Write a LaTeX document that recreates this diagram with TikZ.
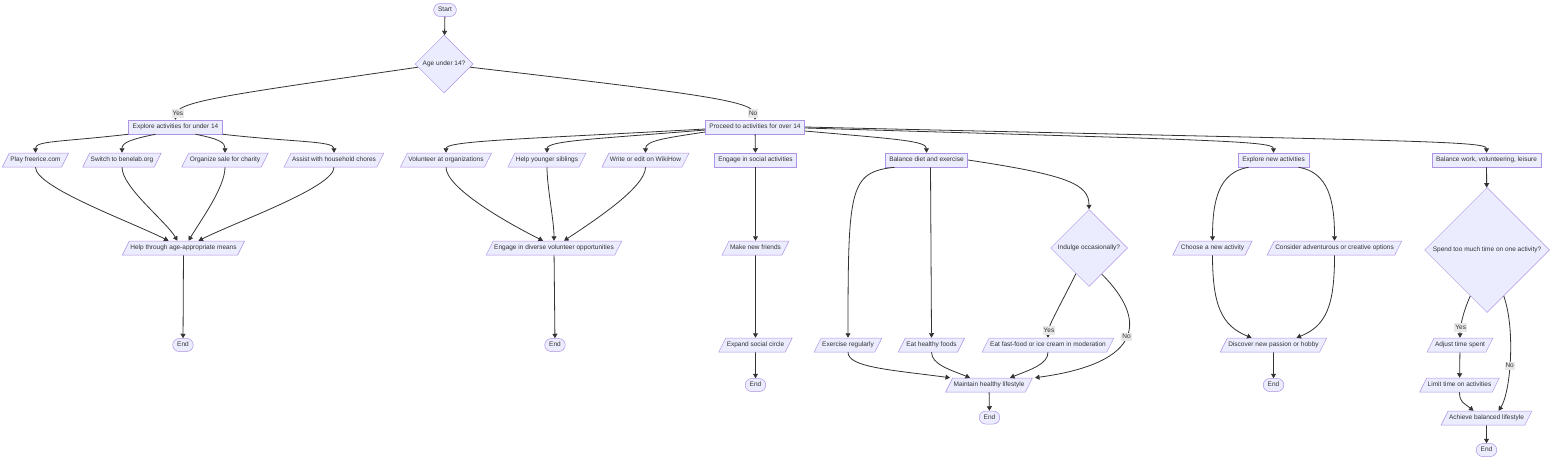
\documentclass[tikz,border=0pt]{standalone}
\usepackage{fontspec}
\setmainfont{Liberation Sans}
\usetikzlibrary{shapes.geometric,arrows.meta}
\definecolor{nodefill}{HTML}{ECECFF}
\definecolor{nodeline}{HTML}{9370DB}
\definecolor{edgeline}{HTML}{333333}
\definecolor{labelfill}{HTML}{E8E8E8}
\begin{document}
\begin{tikzpicture}[x=1pt, y=1pt, font=\fontsize{6.5}{7.8}\selectfont, text=edgeline,
	base/.style={draw=nodeline!75, fill=nodefill, line width=0.5pt, text height=5pt, text depth=1.5pt},
	box/.style={base, rectangle, inner xsep=4pt, inner ysep=3.75pt},
	io/.style={base, trapezium, trapezium left angle=63.4, trapezium right angle=116.6, inner xsep=1pt, inner ysep=3.75pt},
	term/.style={base, rectangle, rounded corners=6.5pt, inner xsep=4.5pt, inner ysep=3.25pt},
	ask/.style={base, diamond, inner sep=0pt, minimum size=#1},
	elabel/.style={fill=labelfill, inner sep=1pt, text height=5pt, text depth=1.5pt},
	flow/.style={draw=edgeline, line width=0.8pt, -{Triangle[length=4.5pt,width=5pt]}}]
	\useasboundingbox (0,0) rectangle (1568,-466);

	\node[term] (start) at (445,-10) {Start};
	\node[ask=58pt] (age) at (444,-64) {Age under 14?};
	\node[box] (u14) at (175.5,-127) {Explore activities for under 14};
	\node[box] (o14) at (755,-127) {Proceed to activities for over 14};

	\node[io] (play) at (35.5,-160) {Play freerice.com};
	\node[io] (switch) at (122,-160) {Switch to benelab.org};
	\node[io] (sale) at (225,-160) {Organize sale for charity};
	\node[io] (chores) at (334,-160) {Assist with household chores};
	\node[io] (help) at (183.5,-248) {Help through age-appropriate means};
	\node[term] (end1) at (183,-345) {End};

	\node[io] (vol) at (446,-160) {Volunteer at organizations};
	\node[io] (sib) at (547,-160) {Help younger siblings};
	\node[io] (wiki) at (645.5,-160) {Write or edit on WikiHow};
	\node[io] (div) at (554,-248) {Engage in diverse volunteer opportunities};
	\node[term] (end2) at (555,-345) {End};

	\node[box] (social) at (755.5,-160) {Engage in social activities};
	\node[io] (friends) at (755.5,-248) {Make new friends};
	\node[io] (circle) at (755.5,-345) {Expand social circle};
	\node[term] (end3) at (755.5,-385) {End};

	\node[box] (diet) at (926.5,-160) {Balance diet and exercise};
	\node[ask=77pt] (indulge) at (1089,-248) {Indulge occasionally?};
	\node[io] (exreg) at (848,-345) {Exercise regularly};
	\node[io] (healthy) at (931.5,-345) {Eat healthy foods};
	\node[io] (fast) at (1048,-345) {Eat fast-food or ice cream in moderation};
	\node[io] (maintain) at (989,-385) {Maintain healthy lifestyle};
	\node[term] (end4) at (989.5,-417.5) {End};

	\node[box] (explore) at (1273.5,-160) {Explore new activities};
	\node[io] (choose) at (1212.5,-248) {Choose a new activity};
	\node[io] (consider) at (1334.5,-248) {Consider adventurous or creative options};
	\node[io] (discover) at (1273.5,-345) {Discover new passion or hobby};
	\node[term] (end5) at (1273.5,-385) {End};

	\node[box] (bwork) at (1486.5,-160) {Balance work, volunteering, leisure};
	\node[ask=125pt] (spend) at (1487,-250) {Spend too much time on one activity?};
	\node[io] (adjust) at (1460,-345) {Adjust time spent};
	\node[io] (limit) at (1459.5,-385) {Limit time on activities};
	\node[io] (achieve) at (1486.5,-418) {Achieve balanced lifestyle};
	\node[term] (end6) at (1486.5,-450) {End};

	\draw[flow] (start) -- (age);
	\draw[flow] (age.187) .. controls +(-200,-29) and +(0,18) .. node[elabel, pos=0.87] {Yes} (u14.north);
	\draw[flow] (age.353) .. controls +(250,-29) and +(0,18) .. node[elabel, pos=0.88] {No} (o14.north);

	\draw[flow] (u14.south west) .. controls +(-70,-8) and +(0,12) .. (play.north);
	\draw[flow] ([xshift=-20pt]u14.south) .. controls +(-25,-5) and +(0,10) .. (switch.north);
	\draw[flow] ([xshift=20pt]u14.south) .. controls +(25,-5) and +(0,10) .. (sale.north);
	\draw[flow] (u14.south east) .. controls +(70,-8) and +(0,12) .. (chores.north);
	\draw[flow] (play.south) .. controls +(0,-20) and +(-40,20) .. ([xshift=-15pt]help.north);
	\draw[flow] (switch.south) .. controls +(0,-20) and +(-12,20) .. ([xshift=-6pt]help.north);
	\draw[flow] (sale.south) .. controls +(0,-20) and +(12,20) .. ([xshift=5pt]help.north);
	\draw[flow] (chores.south) .. controls +(0,-20) and +(40,20) .. ([xshift=15pt]help.north);
	\draw[flow] (help) -- (end1);

	\draw[flow] ([yshift=-2pt]o14.west) .. controls +(-180,-10) and +(0,12) .. (vol.north);
	\draw[flow] ([yshift=-3pt]o14.west) .. controls +(-110,-9) and +(0,12) .. (sib.north);
	\draw[flow] ([yshift=-5pt]o14.west) .. controls +(-40,-6) and +(0,12) .. (wiki.north);
	\draw[flow] (vol.south) .. controls +(0,-20) and +(-40,20) .. ([xshift=-11pt]div.north);
	\draw[flow] (sib.south) .. controls +(0,-20) and +(0,20) .. (div.north);
	\draw[flow] (wiki.south) .. controls +(0,-20) and +(30,20) .. ([xshift=10pt]div.north);
	\draw[flow] (div) -- (end2);

	\draw[flow] (o14) -- (social);
	\draw[flow] (social) -- (friends);
	\draw[flow] (friends) -- (circle);
	\draw[flow] (circle) -- (end3);

	\draw[flow] ([yshift=-4pt]o14.east) .. controls +(90,-8) and +(0,12) .. (diet.north);
	\draw[flow] ([yshift=-1pt]o14.east) .. controls +(400,-12) and +(0,12) .. (explore.north);
	\draw[flow] (o14.east) .. controls +(600,-14) and +(0,12) .. (bwork.north);

	\draw[flow] ([xshift=-32pt]diet.south) .. controls +(-45,-5) and +(0,150) .. (exreg.north);
	\draw[flow] ([xshift=4pt]diet.south) -- (healthy.north);
	\draw[flow] (diet.east) .. controls +(100,-15) and +(0,25) .. (indulge.north);
	\draw[flow] (indulge.243) .. controls +(-20,-40) and +(0,12) .. node[elabel, pos=0.8] {Yes} (fast.north);
	\draw[flow] (indulge.296) .. controls +(45,-45) and +(110,15) .. node[elabel, pos=0.5] {No} ([xshift=46pt]maintain.north);
	\draw[flow] (exreg.south) .. controls +(0,-15) and +(-60,8) .. ([xshift=-39pt]maintain.north);
	\draw[flow] (healthy.south) .. controls +(0,-12) and +(-20,8) .. ([xshift=-19pt]maintain.north);
	\draw[flow] (fast.south) .. controls +(0,-12) and +(20,8) .. ([xshift=21pt]maintain.north);
	\draw[flow] (maintain) -- (end4);

	\draw[flow] ([xshift=-25pt]explore.south) .. controls +(-30,-5) and +(0,40) .. (choose.north);
	\draw[flow] ([xshift=25pt]explore.south) .. controls +(30,-5) and +(0,40) .. (consider.north);
	\draw[flow] (choose.south) .. controls +(0,-50) and +(-30,12) .. ([xshift=-22pt]discover.north);
	\draw[flow] (consider.south) .. controls +(0,-50) and +(30,12) .. ([xshift=23pt]discover.north);
	\draw[flow] (discover) -- (end5);

	\draw[flow] (bwork) -- (spend);
	\draw[flow] (spend.250) .. controls +(-8,-18) and +(0,10) .. node[elabel, pos=0.7] {Yes} (adjust.north);
	\draw[flow] (spend.290) .. controls +(12,-34) and +(12,18) .. node[elabel, pos=0.55] {No} ([xshift=12pt]achieve.north);
	\draw[flow] (adjust) -- (limit);
	\draw[flow] (limit.south) .. controls +(0,-10) and +(-10,8) .. ([xshift=-13pt]achieve.north);
	\draw[flow] (achieve) -- (end6);
\end{tikzpicture}
\end{document}
